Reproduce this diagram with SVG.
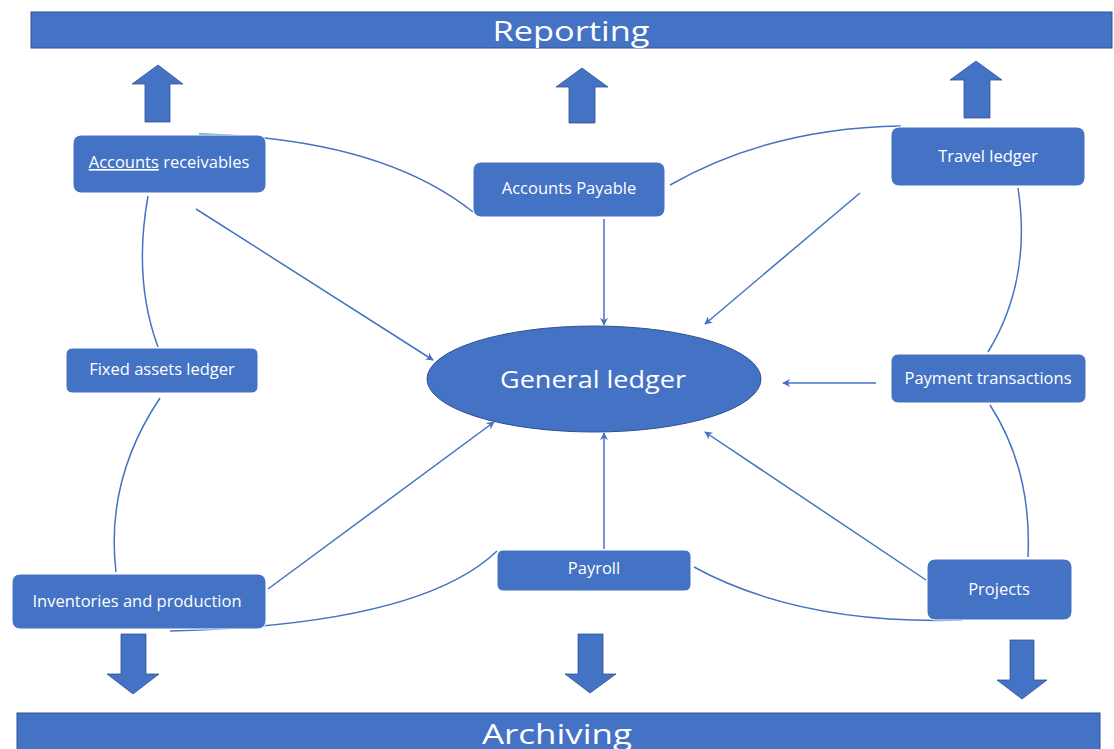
<svg xmlns="http://www.w3.org/2000/svg" width="1114" height="749" viewBox="0 0 1114 749">
  <style>
    .bar { fill: #4472C4; stroke: #2F528F; stroke-width: 1; }
    .box { fill: #4472C4; stroke: #ffffff; stroke-width: 1; }
    .blk { fill: #4472C4; stroke: #2F528F; stroke-width: 0.8; }
    .lbl { font-family: "Open Sans", "Noto Sans", sans-serif; fill: #ffffff; text-anchor: middle; }
    .small { font-size: 16.5px; }
    .big { font-size: 28px; }
    .link { fill: none; stroke: #4472C4; stroke-width: 1.5; }
    .flow { fill: none; stroke: #4472C4; stroke-width: 1.5; marker-end: url(#tip); }
  </style>
  <defs>
    <marker id="tip" viewBox="0 0 10 10" refX="9" refY="5" markerWidth="8" markerHeight="8" markerUnits="userSpaceOnUse" orient="auto">
      <path d="M0,0 L10,5 L0,10 L3,5 Z" fill="#4472C4"/>
    </marker>
  </defs>
  <rect width="1114" height="749" fill="#ffffff"/>

  <!-- top and bottom bands -->
  <g id="reporting">
    <rect class="bar" x="31" y="12" width="1081" height="36"/>
    <text class="lbl big" x="571" y="41" textLength="157" lengthAdjust="spacingAndGlyphs">Reporting</text>
  </g>
  <g id="archiving">
    <rect class="bar" x="17" y="713" width="1083" height="40"/>
    <text class="lbl big" x="557" y="744" textLength="150" lengthAdjust="spacingAndGlyphs">Archiving</text>
  </g>

  <!-- block arrows up to reporting -->
  <g id="up-arrows">
    <path class="blk" d="M145,122 L145,84 L132,84 L158,65 L183,84 L170,84 L170,122 Z"/>
    <path class="blk" d="M569,123 L569,87 L556,87 L582,68 L608,87 L595,87 L595,123 Z"/>
    <path class="blk" d="M964,118 L964,80 L950,80 L976,61 L1002,80 L990,80 L990,118 Z"/>
  </g>
  <!-- block arrows down to archiving -->
  <g id="down-arrows">
    <path class="blk" d="M121,634 L146,634 L146,674 L159,674 L133,694 L107,674 L121,674 Z"/>
    <path class="blk" d="M578,634 L603,634 L603,674 L616,674 L590,693 L565,674 L578,674 Z"/>
    <path class="blk" d="M1010,640 L1034,640 L1034,680 L1047,680 L1022,699 L997,680 L1010,680 Z"/>
  </g>

  <!-- connectors -->
  <g id="connectors">
    <path class="link" d="M199,134 Q380,138 473,212"/>
    <path class="link" d="M670,185 Q770,128 901,126"/>
    <path class="link" d="M1018,188 Q1032,280 988,352"/>
    <path class="link" d="M990,405 Q1032,470 1028,557"/>
    <path class="link" d="M694,567 Q800,625 962,620"/>
    <path class="link" d="M497,551 Q420,625 170,631"/>
    <path class="link" d="M148,196 Q133,280 158,347"/>
    <path class="link" d="M160,398 Q105,480 116,572"/>

    <path class="flow" d="M196,209 L433,360"/>
    <path class="flow" d="M604,219 L604,325"/>
    <path class="flow" d="M860,193 L705,324"/>
    <path class="flow" d="M876,383 L783,383"/>
    <path class="flow" d="M268,589 L494,422"/>
    <path class="flow" d="M604,549 L604,433"/>
    <path class="flow" d="M926,580 L705,432"/>
  </g>

  <!-- ledger nodes -->
  <g id="general-ledger">
    <ellipse cx="594" cy="379" rx="167" ry="53" fill="#4472C4" stroke="#2F528F" stroke-width="1"/>
    <text class="lbl" x="593" y="388" font-size="23" textLength="186" lengthAdjust="spacingAndGlyphs">General ledger</text>
  </g>
  <g id="accounts-receivables">
    <rect class="box" x="73" y="135" width="193" height="58" rx="8"/>
    <text class="lbl small" x="169" y="168"><tspan text-decoration="underline">Accounts</tspan> receivables</text>
  </g>
  <g id="accounts-payable">
    <rect class="box" x="473" y="162" width="192" height="55" rx="8"/>
    <text class="lbl small" x="569" y="194">Accounts Payable</text>
  </g>
  <g id="travel-ledger">
    <rect class="box" x="891" y="127" width="194" height="59" rx="8"/>
    <text class="lbl small" x="988" y="162">Travel ledger</text>
  </g>
  <g id="fixed-assets-ledger">
    <rect class="box" x="66" y="348" width="192" height="45" rx="6"/>
    <text class="lbl small" x="162" y="375">Fixed assets ledger</text>
  </g>
  <g id="payment-transactions">
    <rect class="box" x="891" y="354" width="195" height="49" rx="7"/>
    <text class="lbl small" x="988" y="384">Payment transactions</text>
  </g>
  <g id="inventories-production">
    <rect class="box" x="12" y="574" width="254" height="55" rx="8"/>
    <text class="lbl small" x="137" y="607">Inventories and production</text>
  </g>
  <g id="payroll">
    <rect class="box" x="497" y="550" width="194" height="41" rx="6"/>
    <text class="lbl small" x="594" y="574">Payroll</text>
  </g>
  <g id="projects">
    <rect class="box" x="927" y="559" width="145" height="61" rx="8"/>
    <text class="lbl small" x="999" y="595">Projects</text>
  </g>
</svg>
